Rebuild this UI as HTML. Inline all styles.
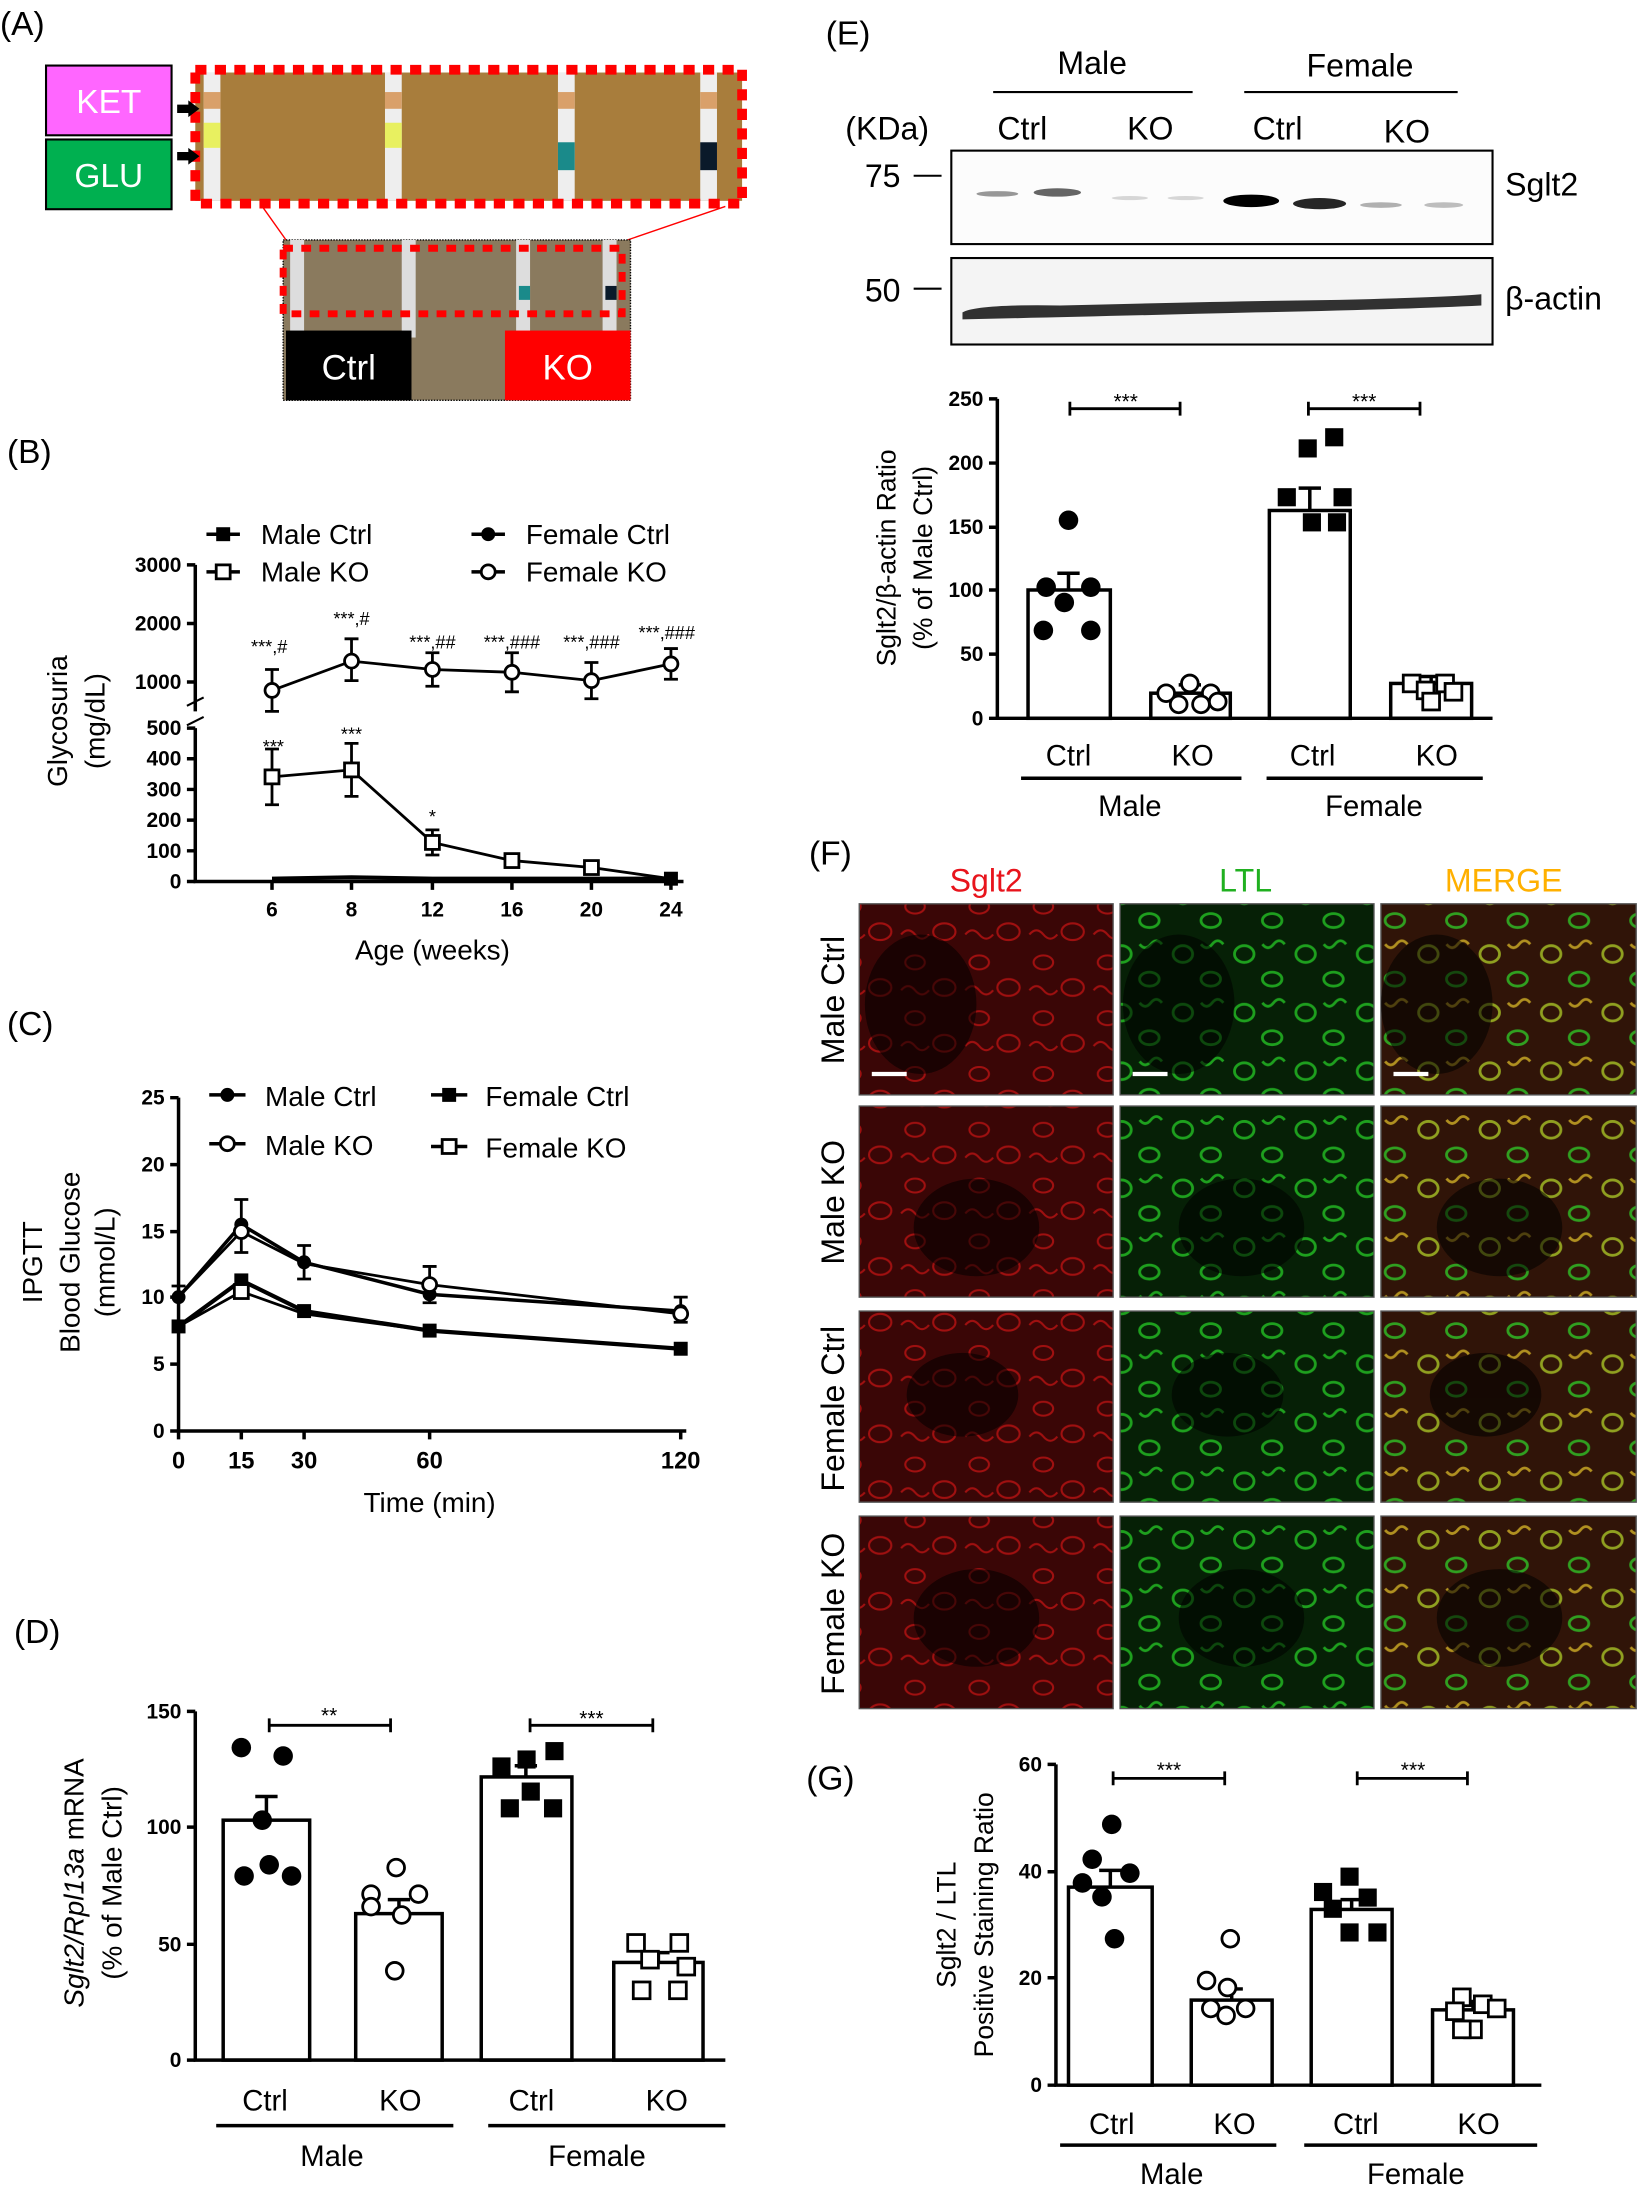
<!DOCTYPE html>
<html><head><meta charset="utf-8"><style>html,body{margin:0;padding:0;background:#fff}svg{display:block}text{font-family:"Liberation Sans",Arial,sans-serif}</style></head><body>
<svg width="1639" height="2187" viewBox="0 0 1175 1568" preserveAspectRatio="none" xmlns="http://www.w3.org/2000/svg">
<defs>
<pattern id="pr" width="46" height="40" patternUnits="userSpaceOnUse"><rect width="46" height="40" fill="#3a0606"/><g fill="none" stroke="#a01010" stroke-width="1.5"><ellipse cx="12" cy="10" rx="7" ry="5"/><ellipse cx="33" cy="28" rx="8" ry="6"/><path d="M2 30 q5 -6 10 0 t10 0"/></g></pattern>
<pattern id="pg" width="44" height="42" patternUnits="userSpaceOnUse"><rect width="44" height="42" fill="#062006"/><g fill="none" stroke="#1ea01e" stroke-width="2"><ellipse cx="12" cy="12" rx="7" ry="6"/><ellipse cx="32" cy="30" rx="7" ry="5"/><path d="M25 5 q4 5 8 0 t8 0"/></g></pattern>
<pattern id="pm" width="44" height="42" patternUnits="userSpaceOnUse"><rect width="44" height="42" fill="#301408"/><g fill="none" stroke-width="2"><ellipse cx="12" cy="12" rx="7" ry="6" stroke="#90a020"/><ellipse cx="32" cy="30" rx="7" ry="5" stroke="#30a020"/><path d="M25 5 q4 5 8 0 t8 0" stroke="#b09020"/></g></pattern>
</defs>
<!-- Panel A -->
<text x="0" y="25" font-size="24">(A)</text>
<rect x="33" y="47" width="90" height="50" fill="#ff66ff" stroke="#000" stroke-width="1.5"/><text x="78" y="81" font-size="24" fill="#fff" text-anchor="middle">KET</text>
<rect x="33" y="100" width="90" height="50" fill="#00b050" stroke="#000" stroke-width="1.5"/><text x="78" y="134" font-size="24" fill="#fff" text-anchor="middle">GLU</text>
<rect x="140" y="52" width="392" height="92" fill="#a87d3c"/>
<g><rect x="146" y="52" width="12" height="92" fill="#eee"/><rect x="146" y="66" width="12" height="12" fill="#d9a06a"/><rect x="146" y="88" width="12" height="18" fill="#e8f060"/>
<rect x="276" y="52" width="12" height="92" fill="#eee"/><rect x="276" y="66" width="12" height="12" fill="#d9a06a"/><rect x="276" y="88" width="12" height="18" fill="#e8f060"/>
<rect x="400" y="52" width="12" height="92" fill="#eee"/><rect x="400" y="66" width="12" height="12" fill="#d9a06a"/><rect x="400" y="102" width="12" height="20" fill="#1a8a8a"/>
<rect x="502" y="52" width="12" height="92" fill="#eee"/><rect x="502" y="66" width="12" height="12" fill="#d9a06a"/><rect x="502" y="102" width="12" height="20" fill="#0a1a2a"/></g>
<rect x="140" y="50" width="392" height="96" fill="none" stroke="#f00" stroke-width="7" stroke-dasharray="8,6"/>
<path d="M127 78 h10 M127 112 h10" stroke="#000" stroke-width="6"/><path d="M135 72 l8 6 l-8 6z M135 106 l8 6 l-8 6z"/>
<path d="M188 148 L205 172 M520 148 L450 172" stroke="#f00" stroke-width="1"/>
<rect x="203" y="172" width="249" height="115" fill="#8a7a5e" stroke="#000" stroke-width="1" stroke-dasharray="1,1"/>
<rect x="208" y="172" width="10" height="70" fill="#ddd"/><rect x="288" y="172" width="10" height="70" fill="#ddd"/><rect x="370" y="172" width="10" height="70" fill="#ddd"/><rect x="372" y="205" width="8" height="10" fill="#1a8a8a"/><rect x="432" y="172" width="10" height="70" fill="#ddd"/><rect x="434" y="205" width="8" height="10" fill="#0a1a2a"/>
<rect x="203" y="178" width="243" height="47" fill="none" stroke="#f00" stroke-width="5" stroke-dasharray="7,6"/>
<rect x="205" y="237" width="90" height="50" fill="#000"/><text x="250" y="272" font-size="25" fill="#fff" text-anchor="middle">Ctrl</text>
<rect x="362" y="237" width="90" height="50" fill="#f00"/><text x="407" y="272" font-size="25" fill="#fff" text-anchor="middle">KO</text>

<!-- Panel B -->
<text x="5" y="332" font-size="24">(B)</text>
<g stroke="#000" stroke-width="2.5" fill="none">
<path d="M140 405 V510 M140 522 V632 H490"/><path d="M134 506 l12 -6 M134 520 l12 -6" stroke-width="1.5"/>
<path d="M134 405h6M134 447h6M134 489h6M134 522h6M134 544h6M134 566h6M134 588h6M134 610h6M134 632h6"/>
<path d="M195 632v6M252 632v6M310 632v6M367 632v6M424 632v6M481 632v6"/>
</g>
<g font-size="15" font-weight="bold" text-anchor="end"><text x="130" y="410">3000</text><text x="130" y="452">2000</text><text x="130" y="494">1000</text><text x="130" y="527">500</text><text x="130" y="549">400</text><text x="130" y="571">300</text><text x="130" y="593">200</text><text x="130" y="615">100</text><text x="130" y="637">0</text></g>
<g font-size="15" font-weight="bold" text-anchor="middle"><text x="195" y="657">6</text><text x="252" y="657">8</text><text x="310" y="657">12</text><text x="367" y="657">16</text><text x="424" y="657">20</text><text x="481" y="657">24</text></g>
<text x="310" y="688" font-size="20" text-anchor="middle">Age (weeks)</text>
<text transform="translate(48,517) rotate(-90)" font-size="20" text-anchor="middle">Glycosuria</text>
<text transform="translate(75,517) rotate(-90)" font-size="20" text-anchor="middle">(mg/dL)</text>
<g stroke="#000" stroke-width="2" fill="none">
<path d="M195 630 L252 629 L310 630 L367 630 L424 630 L481 630" stroke-width="3"/>
<path d="M195 557 L252 552 L310 604 L367 617 L424 622 L481 630"/>
<path d="M195 537v40M190 537h10M190 577h10M252 533v38M247 533h10M247 571h10M310 595v18M305 595h10M305 613h10"/>
<path d="M195 495 L252 474 L310 480 L367 482 L424 488 L481 476"/>
<path d="M195 480v30M190 480h10M190 510h10M252 458v30M247 458h10M247 488h10M310 468v24M305 468h10M305 492h10M367 468v28M362 468h10M362 496h10M424 475v26M419 475h10M419 501h10M481 465v22M476 465h10M476 487h10"/>
</g>
<g fill="#fff" stroke="#000" stroke-width="2"><rect x="190" y="552" width="10" height="10"/><rect x="247" y="547" width="10" height="10"/><rect x="305" y="599" width="10" height="10"/><rect x="362" y="612" width="10" height="10"/><rect x="419" y="617" width="10" height="10"/>
<circle cx="195" cy="495" r="5"/><circle cx="252" cy="474" r="5"/><circle cx="310" cy="480" r="5"/><circle cx="367" cy="482" r="5"/><circle cx="424" cy="488" r="5"/><circle cx="481" cy="476" r="5"/></g>
<rect x="476" y="625" width="10" height="10"/>
<g font-size="13" text-anchor="middle"><text x="193" y="468">***,#</text><text x="252" y="448">***,#</text><text x="310" y="465">***,##</text><text x="367" y="465">***,###</text><text x="424" y="465">***,###</text><text x="478" y="458">***,###</text><text x="196" y="540">***</text><text x="252" y="531">***</text><text x="310" y="590">*</text></g>
<g stroke="#000" stroke-width="2.5"><path d="M148 383h24M148 410h24M338 383h24M338 410h24"/></g>
<rect x="155" y="378" width="10" height="10"/><rect x="155" y="405" width="10" height="10" fill="#fff" stroke="#000" stroke-width="2"/><circle cx="350" cy="383" r="5"/><circle cx="350" cy="410" r="5" fill="#fff" stroke="#000" stroke-width="2"/>
<g font-size="20"><text x="187" y="390">Male Ctrl</text><text x="187" y="417">Male KO</text><text x="377" y="390">Female Ctrl</text><text x="377" y="417">Female KO</text></g>

<!-- Panel C -->
<text x="5" y="742" font-size="24">(C)</text>
<g stroke="#000" stroke-width="2.5" fill="none"><path d="M128 787 V1026 H492"/>
<path d="M122 787h6M122 835h6M122 883h6M122 930h6M122 978h6M122 1026h6M128 1026v6M173 1026v6M218 1026v6M308 1026v6M488 1026v6"/></g>
<g font-size="15" font-weight="bold" text-anchor="end"><text x="118" y="792">25</text><text x="118" y="840">20</text><text x="118" y="888">15</text><text x="118" y="935">10</text><text x="118" y="983">5</text><text x="118" y="1031">0</text></g>
<g font-size="17" font-weight="bold" text-anchor="middle"><text x="128" y="1053">0</text><text x="173" y="1053">15</text><text x="218" y="1053">30</text><text x="308" y="1053">60</text><text x="488" y="1053">120</text></g>
<text x="308" y="1084" font-size="20" text-anchor="middle">Time (min)</text>
<text transform="translate(30,905) rotate(-90)" font-size="20" text-anchor="middle">IPGTT</text>
<text transform="translate(57,905) rotate(-90)" font-size="20" text-anchor="middle">Blood Glucose</text>
<text transform="translate(82,905) rotate(-90)" font-size="20" text-anchor="middle">(mmol/L)</text>
<g stroke="#000" stroke-width="2" fill="none">
<path d="M128 930 L173 878 L218 905 L308 928 L488 940" stroke-width="2.5"/>
<path d="M128 930 L173 883 L218 906 L308 921 L488 942"/>
<path d="M128 951 L173 918 L218 940 L308 954 L488 967" stroke-width="3"/>
<path d="M128 951 L173 926 L218 942 L308 954 L488 967"/>
<path d="M173 860v38M168 860h10M168 898h10M218 893v24M213 893h10M213 917h10M308 908v26M303 908h10M303 934h10M488 930v18M483 930h10M483 948h10M128 922v14M123 922h10"/>
</g>
<g><circle cx="128" cy="930" r="5"/><circle cx="173" cy="878" r="5"/><circle cx="218" cy="905" r="5"/><circle cx="308" cy="928" r="5"/><circle cx="488" cy="940" r="5"/>
<rect x="123" y="946" width="10" height="10"/><rect x="168" y="913" width="10" height="10"/><rect x="213" y="935" width="10" height="10"/><rect x="303" y="949" width="10" height="10"/><rect x="483" y="962" width="10" height="10"/></g>
<g fill="#fff" stroke="#000" stroke-width="2"><circle cx="173" cy="883" r="5"/><circle cx="308" cy="921" r="5"/><circle cx="488" cy="942" r="5"/><rect x="168" y="921" width="10" height="10"/></g>
<g stroke="#000" stroke-width="2.5"><path d="M150 785h26M150 820h26M309 785h26M309 822h26"/></g>
<circle cx="163" cy="785" r="5"/><circle cx="163" cy="820" r="5" fill="#fff" stroke="#000" stroke-width="2"/><rect x="317" y="780" width="10" height="10"/><rect x="317" y="817" width="10" height="10" fill="#fff" stroke="#000" stroke-width="2"/>
<g font-size="20"><text x="190" y="793">Male Ctrl</text><text x="190" y="828">Male KO</text><text x="348" y="793">Female Ctrl</text><text x="348" y="830">Female KO</text></g>

<!-- Panel D -->
<text x="10" y="1178" font-size="24">(D)</text>
<g stroke="#000" stroke-width="2.5" fill="none"><path d="M140 1227 V1477 H520"/><path d="M134 1227h6M134 1310h6M134 1394h6M134 1477h6"/>
<rect x="160" y="1305" width="62" height="172"/><rect x="255" y="1372" width="62" height="105"/><rect x="345" y="1274" width="65" height="203"/><rect x="440" y="1407" width="64" height="70"/>
<path d="M191 1288v17M183 1288h16M286 1362v10M278 1362h16M377 1266v8M369 1266h16M472 1400v7M464 1400h16"/>
<path d="M193 1237h87M193 1232v10M280 1232v10M380 1237h88M380 1232v10M468 1232v10" stroke-width="2"/>
<path d="M155 1524h170M350 1524h170"/></g>
<g font-size="15" font-weight="bold" text-anchor="end"><text x="130" y="1232">150</text><text x="130" y="1315">100</text><text x="130" y="1399">50</text><text x="130" y="1482">0</text></g>
<text x="236" y="1235" font-size="15" text-anchor="middle">**</text><text x="424" y="1237" font-size="15" text-anchor="middle">***</text>
<g><circle cx="173" cy="1253" r="7"/><circle cx="203" cy="1259" r="7"/><circle cx="188" cy="1305" r="7"/><circle cx="193" cy="1337" r="7"/><circle cx="175" cy="1345" r="7"/><circle cx="209" cy="1345" r="7"/>
<rect x="353" y="1260" width="13" height="13"/><rect x="371" y="1255" width="13" height="13"/><rect x="391" y="1249" width="13" height="13"/><rect x="359" y="1290" width="13" height="13"/><rect x="374" y="1278" width="13" height="13"/><rect x="390" y="1290" width="13" height="13"/></g>
<g fill="#fff" stroke="#000" stroke-width="2"><circle cx="284" cy="1339" r="6"/><circle cx="266" cy="1358" r="6"/><circle cx="300" cy="1358" r="6"/><circle cx="266" cy="1367" r="6"/><circle cx="288" cy="1373" r="6"/><circle cx="283" cy="1413" r="6"/>
<rect x="450" y="1387" width="12" height="12"/><rect x="481" y="1387" width="12" height="12"/><rect x="460" y="1399" width="12" height="12"/><rect x="486" y="1404" width="12" height="12"/><rect x="454" y="1421" width="12" height="12"/><rect x="480" y="1421" width="12" height="12"/></g>
<g font-size="21" text-anchor="middle"><text x="190" y="1513">Ctrl</text><text x="287" y="1513">KO</text><text x="381" y="1513">Ctrl</text><text x="478" y="1513">KO</text><text x="238" y="1553">Male</text><text x="428" y="1553">Female</text></g>
<text transform="translate(60,1350) rotate(-90)" font-size="20" text-anchor="middle"><tspan font-style="italic">Sglt2/Rpl13a</tspan> mRNA</text>
<text transform="translate(87,1350) rotate(-90)" font-size="20" text-anchor="middle">(% of Male Ctrl)</text>

<!-- Panel E -->
<text x="592" y="32" font-size="24">(E)</text>
<text x="783" y="53" font-size="23" text-anchor="middle">Male</text><text x="975" y="55" font-size="23" text-anchor="middle">Female</text>
<path d="M712 66h143M892 66h153" stroke="#000" stroke-width="1.5"/>
<g font-size="23"><text x="606" y="100">(KDa)</text><text x="715" y="100">Ctrl</text><text x="808" y="100">KO</text><text x="898" y="100">Ctrl</text><text x="992" y="102">KO</text><text x="620" y="134">75</text><text x="620" y="216">50</text><text x="1079" y="140">Sglt2</text><text x="1079" y="222">β-actin</text></g>
<path d="M655 126h20M655 207h20" stroke="#000" stroke-width="1.5"/>
<rect x="682" y="108" width="388" height="67" fill="#fcfcfc" stroke="#000" stroke-width="1.5"/>
<rect x="682" y="185" width="388" height="62" fill="#f4f4f4" stroke="#000" stroke-width="1.5"/>
<g fill="#000"><ellipse cx="715" cy="139" rx="15" ry="2" opacity=".4"/><ellipse cx="758" cy="138" rx="17" ry="3" opacity=".6"/><ellipse cx="810" cy="142" rx="13" ry="1.5" opacity=".15"/><ellipse cx="850" cy="142" rx="13" ry="1.5" opacity=".15"/><ellipse cx="897" cy="144" rx="20" ry="4.5"/><ellipse cx="946" cy="146" rx="19" ry="4" opacity=".85"/><ellipse cx="990" cy="147" rx="15" ry="2" opacity=".3"/><ellipse cx="1035" cy="147" rx="14" ry="2" opacity=".25"/>
<path d="M690 224 Q700 218 760 219 Q880 216 960 215 Q1040 213 1062 211 L1062 219 Q1000 222 900 224 Q780 227 690 229z" opacity=".8"/></g>
<g stroke="#000" stroke-width="2.5" fill="none"><path d="M715 286 V515 H1070"/><path d="M709 286h6M709 332h6M709 378h6M709 423h6M709 469h6M709 515h6"/>
<rect x="737" y="423" width="59" height="92"/><rect x="825" y="497" width="57" height="18"/><rect x="910" y="366" width="58" height="149"/><rect x="997" y="490" width="58" height="25"/>
<path d="M766 411v12M758 411h16M853 491v6M845 491h16M939 350v16M931 350h16M1026 485v5M1018 485h16"/>
<path d="M767 293h79M767 288v10M846 288v10M938 293h80M938 288v10M1018 288v10" stroke-width="2"/>
<path d="M732 558h158M908 558h155"/></g>
<g font-size="15" font-weight="bold" text-anchor="end"><text x="705" y="291">250</text><text x="705" y="337">200</text><text x="705" y="383">150</text><text x="705" y="428">100</text><text x="705" y="474">50</text><text x="705" y="520">0</text></g>
<text x="807" y="293" font-size="15" text-anchor="middle">***</text><text x="978" y="293" font-size="15" text-anchor="middle">***</text>
<g><circle cx="766" cy="373" r="7"/><circle cx="750" cy="421" r="7"/><circle cx="782" cy="421" r="7"/><circle cx="763" cy="432" r="7"/><circle cx="748" cy="452" r="7"/><circle cx="782" cy="452" r="7"/>
<rect x="931" y="315" width="13" height="13"/><rect x="950" y="307" width="13" height="13"/><rect x="916" y="350" width="13" height="13"/><rect x="956" y="350" width="13" height="13"/><rect x="934" y="368" width="13" height="13"/><rect x="952" y="368" width="13" height="13"/></g>
<g fill="#fff" stroke="#000" stroke-width="2"><circle cx="853" cy="490" r="6"/><circle cx="836" cy="497" r="6"/><circle cx="868" cy="497" r="6"/><circle cx="845" cy="505" r="6"/><circle cx="861" cy="505" r="6"/><circle cx="873" cy="503" r="6"/>
<rect x="1006" y="484" width="12" height="12"/><rect x="1030" y="484" width="12" height="12"/><rect x="1016" y="489" width="12" height="12"/><rect x="1036" y="490" width="12" height="12"/><rect x="1020" y="497" width="12" height="12"/></g>
<g font-size="21" text-anchor="middle"><text x="766" y="549">Ctrl</text><text x="855" y="549">KO</text><text x="941" y="549">Ctrl</text><text x="1030" y="549">KO</text><text x="810" y="585">Male</text><text x="985" y="585">Female</text></g>
<text transform="translate(642,400) rotate(-90)" font-size="19" text-anchor="middle">Sglt2/β-actin Ratio</text>
<text transform="translate(668,400) rotate(-90)" font-size="19" text-anchor="middle">(% of Male Ctrl)</text>

<!-- Panel F -->
<text x="580" y="620" font-size="24">(F)</text>
<text x="707" y="639" font-size="23" fill="#e8141c" text-anchor="middle">Sglt2</text><text x="893" y="639" font-size="23" fill="#20b020" text-anchor="middle">LTL</text><text x="1078" y="639" font-size="23" fill="#ffb000" text-anchor="middle">MERGE</text>
<g stroke="#555" stroke-width="1">
<rect x="616" y="648" width="182" height="137" fill="url(#pr)"/><rect x="803" y="648" width="182" height="137" fill="url(#pg)"/><rect x="990" y="648" width="183" height="137" fill="url(#pm)"/>
<rect x="616" y="793" width="182" height="137" fill="url(#pr)"/><rect x="803" y="793" width="182" height="137" fill="url(#pg)"/><rect x="990" y="793" width="183" height="137" fill="url(#pm)"/>
<rect x="616" y="940" width="182" height="137" fill="url(#pr)"/><rect x="803" y="940" width="182" height="137" fill="url(#pg)"/><rect x="990" y="940" width="183" height="137" fill="url(#pm)"/>
<rect x="616" y="1087" width="182" height="138" fill="url(#pr)"/><rect x="803" y="1087" width="182" height="138" fill="url(#pg)"/><rect x="990" y="1087" width="183" height="138" fill="url(#pm)"/>
</g>
<g fill="#000" opacity=".55"><ellipse cx="690" cy="1000" rx="40" ry="30"/><ellipse cx="880" cy="1000" rx="40" ry="30"/><ellipse cx="1065" cy="1000" rx="40" ry="30"/><ellipse cx="700" cy="880" rx="45" ry="35"/><ellipse cx="890" cy="880" rx="45" ry="35"/><ellipse cx="1075" cy="880" rx="45" ry="35"/><ellipse cx="700" cy="1160" rx="45" ry="35"/><ellipse cx="890" cy="1160" rx="45" ry="35"/><ellipse cx="1075" cy="1160" rx="45" ry="35"/><ellipse cx="660" cy="720" rx="40" ry="50"/><ellipse cx="845" cy="720" rx="40" ry="50"/><ellipse cx="1030" cy="720" rx="40" ry="50"/></g>
<path d="M625 770h25M812 770h25M999 770h25" stroke="#fff" stroke-width="3"/>
<g font-size="23" text-anchor="middle"><text transform="translate(605,717) rotate(-90)">Male Ctrl</text><text transform="translate(605,862) rotate(-90)">Male KO</text><text transform="translate(605,1010) rotate(-90)">Female Ctrl</text><text transform="translate(605,1157) rotate(-90)">Female KO</text></g>

<!-- Panel G -->
<text x="578" y="1283" font-size="24">(G)</text>
<g stroke="#000" stroke-width="2.5" fill="none"><path d="M757 1265 V1495 H1105"/><path d="M751 1265h6M751 1342h6M751 1418h6M751 1495h6"/>
<rect x="766" y="1353" width="60" height="142"/><rect x="854" y="1434" width="58" height="61"/><rect x="940" y="1369" width="58" height="126"/><rect x="1027" y="1441" width="58" height="54"/>
<path d="M796 1341v12M788 1341h16M883 1426v8M875 1426h16M969 1362v7M961 1362h16M1056 1435v6M1048 1435h16"/>
<path d="M798 1275h80M798 1270v10M878 1270v10M973 1275h79M973 1270v10M1052 1270v10" stroke-width="2"/>
<path d="M760 1538h155M935 1538h167"/></g>
<g font-size="15" font-weight="bold" text-anchor="end"><text x="747" y="1270">60</text><text x="747" y="1347">40</text><text x="747" y="1423">20</text><text x="747" y="1500">0</text></g>
<text x="838" y="1274" font-size="15" text-anchor="middle">***</text><text x="1013" y="1274" font-size="15" text-anchor="middle">***</text>
<g><circle cx="797" cy="1308" r="7"/><circle cx="783" cy="1333" r="7"/><circle cx="810" cy="1343" r="7"/><circle cx="776" cy="1350" r="7"/><circle cx="790" cy="1360" r="7"/><circle cx="799" cy="1390" r="7"/>
<rect x="961" y="1339" width="13" height="13"/><rect x="942" y="1350" width="13" height="13"/><rect x="974" y="1354" width="13" height="13"/><rect x="949" y="1362" width="13" height="13"/><rect x="961" y="1379" width="13" height="13"/><rect x="981" y="1379" width="13" height="13"/></g>
<g fill="#fff" stroke="#000" stroke-width="2"><circle cx="882" cy="1390" r="6"/><circle cx="865" cy="1420" r="6"/><circle cx="880" cy="1425" r="6"/><circle cx="868" cy="1440" r="6"/><circle cx="893" cy="1440" r="6"/><circle cx="879" cy="1445" r="6"/>
<rect x="1042" y="1426" width="12" height="12"/><rect x="1057" y="1431" width="12" height="12"/><rect x="1037" y="1436" width="12" height="12"/><rect x="1067" y="1434" width="12" height="12"/><rect x="1050" y="1449" width="12" height="12"/><rect x="1042" y="1449" width="12" height="12"/></g>
<g font-size="21" text-anchor="middle"><text x="797" y="1530">Ctrl</text><text x="885" y="1530">KO</text><text x="972" y="1530">Ctrl</text><text x="1060" y="1530">KO</text><text x="840" y="1566">Male</text><text x="1015" y="1566">Female</text></g>
<text transform="translate(685,1380) rotate(-90)" font-size="19" text-anchor="middle">Sglt2 / LTL</text>
<text transform="translate(712,1380) rotate(-90)" font-size="19" text-anchor="middle">Positive Staining Ratio</text>
</svg>
</body></html>
